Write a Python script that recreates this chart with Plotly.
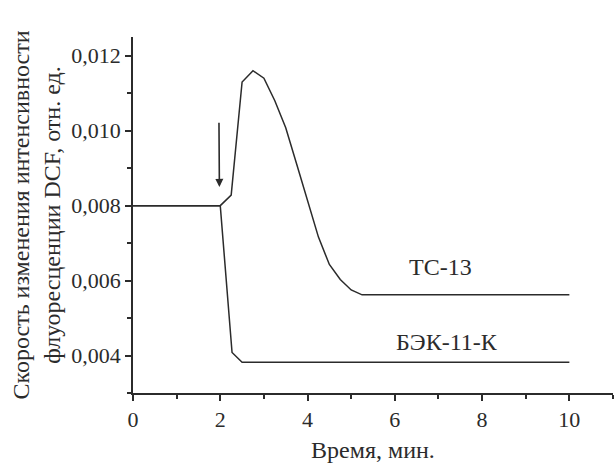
import plotly.graph_objects as go

# Data
time_tc13 = [0, 2.0, 2.25, 2.5, 2.75, 3.0, 3.25, 3.5, 3.75, 4.0, 4.25, 4.5, 4.75, 5.0, 5.25, 10]
rate_tc13 = [0.0080, 0.0080, 0.00828, 0.01130, 0.01160, 0.01140, 0.01080, 0.01008, 0.00911,
             0.00813, 0.00716, 0.00643, 0.00603, 0.00575, 0.00562, 0.00562]

time_bek = [0, 2.0, 2.27, 2.5, 10]
rate_bek = [0.0080, 0.0080, 0.00408, 0.00382, 0.00382]

series_labels = ["ТС-13", "БЭК-11-К"]
label_x = [7.05, 7.2]
label_y = [0.00636, 0.00437]

arrow_start = (1.97, 0.01025)
arrow_end = (1.98, 0.00850)

x_title = "Время, мин."
y_title = "Скорость изменения интенсивности<br>флуоресценции DCF, отн. ед."

FONT = "Liberation Serif"
INK = "#2b2b2b"
FS_TICK = 22
FS_TITLE = 24
FS_LABEL = 24

fig = go.Figure()
fig.add_trace(go.Scatter(x=time_tc13, y=rate_tc13, mode="lines",
                         line=dict(color=INK, width=1.5), name=series_labels[0]))
fig.add_trace(go.Scatter(x=time_bek, y=rate_bek, mode="lines",
                         line=dict(color=INK, width=1.5), name=series_labels[1]))

for txt, lx, ly in zip(series_labels, label_x, label_y):
    fig.add_annotation(x=lx, y=ly, text=txt, showarrow=False,
                       font=dict(family=FONT, size=FS_LABEL, color=INK))

fig.add_annotation(x=arrow_end[0], y=arrow_end[1], ax=arrow_start[0], ay=arrow_start[1],
                   xref="x", yref="y", axref="x", ayref="y", text="",
                   showarrow=True, arrowhead=2, arrowsize=1, arrowwidth=1.6,
                   arrowcolor=INK, standoff=0, startstandoff=0)

fig.update_layout(
    width=614, height=468,
    margin=dict(l=133, r=1, t=37, b=75, autoexpand=False),
    paper_bgcolor="white", plot_bgcolor="white",
    showlegend=False,
    separators=", ",
    font=dict(family=FONT, size=FS_TICK, color=INK),
)
fig.update_xaxes(
    range=[0, 11], showgrid=False, zeroline=False, automargin=False,
    showline=True, linecolor=INK, linewidth=1.5,
    ticks="outside", ticklen=6, tickwidth=1.5, tickcolor=INK,
    tickmode="linear", tick0=0, dtick=2,
    minor=dict(ticks="outside", ticklen=4, tickwidth=1.5, tickcolor=INK, dtick=1),
    tickfont=dict(family=FONT, size=FS_TICK, color=INK),
    title=dict(text=x_title, font=dict(family=FONT, size=FS_TITLE, color=INK), standoff=10),
)
fig.update_yaxes(
    range=[0.003, 0.0125], showgrid=False, zeroline=False, automargin=False,
    showline=True, linecolor=INK, linewidth=1.5,
    ticks="outside", ticklen=6, tickwidth=1.5, tickcolor=INK,
    tickmode="linear", tick0=0.004, dtick=0.002, tickformat=".3f",
    minor=dict(ticks="outside", ticklen=4, tickwidth=1.5, tickcolor=INK, dtick=0.001, tick0=0.003),
    tickfont=dict(family=FONT, size=FS_TICK, color=INK),
    title=dict(text=y_title, font=dict(family=FONT, size=FS_TITLE, color=INK), standoff=4),
)

fig.write_html("out.html", config={"displayModeBar": False},
               post_script="document.body.style.margin='0';")
